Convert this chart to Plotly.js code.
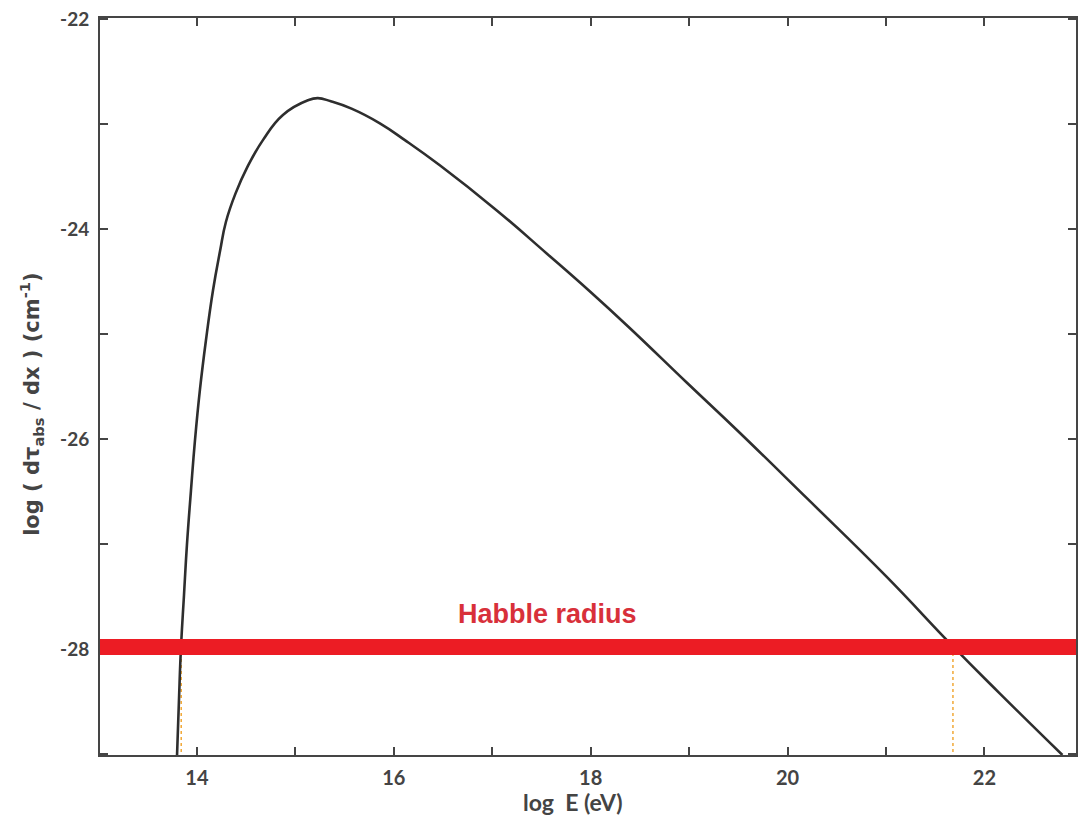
<!DOCTYPE html>
<html>
<head>
<meta charset="utf-8">
<script src="https://cdn.plot.ly/plotly-3.0.1.min.js"></script>
<style>
  html, body { margin: 0; padding: 0; background: #fff; }
  #chart { width: 1078px; height: 826px; }
</style>
</head>
<body>
<div id="chart"></div>
<script>
// Absorption rate per unit length versus photon energy
const logE = [13.797, 13.817, 13.838, 13.868, 13.898, 13.939, 13.980, 14.030, 14.091, 14.163,
              14.234, 14.294, 14.391, 14.515, 14.670, 14.873, 15.127, 15.228, 15.360, 15.570,
              15.858, 16.112, 16.467, 17.046, 17.553, 17.990, 18.396, 18.975, 19.482, 20.193,
              21.005, 21.675, 22.152, 22.792];
const logTau = [-29.03, -28.49, -27.98, -27.49, -27.01, -26.49, -26.01, -25.53, -25.06, -24.58,
                -24.21, -23.93, -23.66, -23.40, -23.15, -22.91, -22.77, -22.75, -22.78, -22.85,
                -22.99, -23.15, -23.39, -23.82, -24.23, -24.59, -24.94, -25.46, -25.91, -26.56,
                -27.31, -27.97, -28.42, -29.01];

// Hubble-radius level and the energies where the curve crosses it
const horizonLevel = -27.98;
const crossingE = [13.84, 21.68];
const horizonLabel = 'Habble radius';

// Axis ticks
const xTickVals = [14, 16, 18, 20, 22];
const xTickText = ['14', '16', '18', '20', '22'];
const yTickVals = [-28, -26, -24, -22];
const yTickText = ['-28', '-26', '-24', '-22'];

const xRange = [13.015, 22.93];
const yRange = [-29.01, -21.986];

const axisColor = '#454545';
const textFont = 'Lato, "DejaVu Sans", sans-serif';

const traces = [];

// vertical dashed drops from each crossing down to the axis
crossingE.forEach(function (e) {
  traces.push({
    x: [e, e],
    y: [horizonLevel, yRange[0]],
    mode: 'lines',
    line: { color: '#f0a228', width: 1.4, dash: '3px,3px' },
    hoverinfo: 'skip',
    showlegend: false
  });
});

traces.push({
  x: logE,
  y: logTau,
  mode: 'lines',
  line: { color: '#2e2e2e', width: 2.6, shape: 'spline', smoothing: 1.3 },
  showlegend: false
});

const tickCommon = {
  ticks: 'inside',
  ticklen: 8,
  tickwidth: 2,
  tickcolor: axisColor,
  showline: true,
  linecolor: axisColor,
  linewidth: 2,
  mirror: 'ticks',
  showgrid: false,
  zeroline: false,
  fixedrange: true
};

const layout = {
  width: 1078,
  height: 826,
  margin: { l: 100, r: 2, t: 18, b: 71, pad: 0 },
  paper_bgcolor: '#ffffff',
  plot_bgcolor: '#ffffff',
  showlegend: false,
  xaxis: Object.assign({}, tickCommon, {
    range: xRange,
    tickmode: 'array',
    tickvals: xTickVals,
    ticktext: xTickText,
    tickfont: { family: textFont, size: 20, color: '#444', weight: 'bold' },
    ticklabelstandoff: 4,
    minor: { tickmode: 'linear', tick0: 13, dtick: 1, ticks: 'inside', ticklen: 8, tickwidth: 2, tickcolor: axisColor }
  }),
  yaxis: Object.assign({}, tickCommon, {
    range: yRange,
    tickmode: 'array',
    tickvals: yTickVals,
    ticktext: yTickText,
    tickfont: { family: textFont, size: 19, color: '#444', weight: 'bold' },
    ticklabelstandoff: 5,
    minor: { tickmode: 'linear', tick0: -29, dtick: 1, ticks: 'inside', ticklen: 8, tickwidth: 2, tickcolor: axisColor }
  }),
  shapes: [{
    type: 'line',
    xref: 'paper', yref: 'y',
    x0: 0, x1: 1,
    y0: horizonLevel, y1: horizonLevel,
    line: { color: '#ec1c24', width: 16 },
    layer: 'above'
  }],
  annotations: [
    {
      text: horizonLabel,
      xref: 'x', yref: 'y',
      x: 17.56, y: -27.67,
      xanchor: 'center', yanchor: 'middle',
      showarrow: false,
      font: { family: 'Liberation Sans, Arial, sans-serif', size: 27, color: '#d8303a', weight: 'bold' }
    },
    {
      text: 'log  E (eV)',
      xref: 'paper', yref: 'paper',
      x: 0.485, y: -0.064,
      xanchor: 'center', yanchor: 'middle',
      showarrow: false,
      font: { family: textFont, size: 23, color: '#444', weight: 'bold' }
    },
    {
      text: 'log ( dτ<sub>abs</sub> / dx ) (cm<sup>-1</sup>)',
      xref: 'paper', yref: 'paper',
      x: -0.07, y: 0.476,
      xanchor: 'center', yanchor: 'middle',
      textangle: -90,
      showarrow: false,
      font: { family: '"DejaVu Sans", sans-serif', size: 21, color: '#444', weight: 'bold' }
    }
  ]
};

Plotly.newPlot('chart', traces, layout, { displayModeBar: false, staticPlot: true });
</script>
</body>
</html>
